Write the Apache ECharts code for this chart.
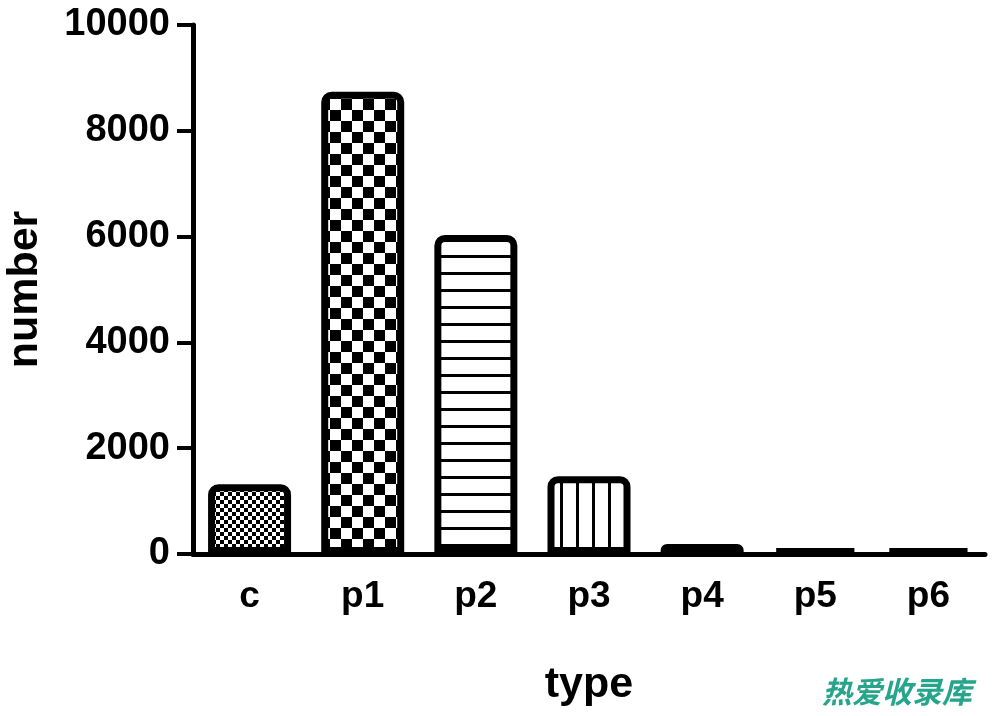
<!DOCTYPE html>
<html>
<head>
<meta charset="utf-8">
<script src="https://cdn.jsdelivr.net/npm/echarts@6/dist/echarts.min.js"></script>
<style>html,body{margin:0;padding:0;background:#fff;}#chart{width:1000px;height:716px;}</style>
</head>
<body>
<div id="chart"></div>
<script>
const categories = ['c', 'p1', 'p2', 'p3', 'p4', 'p5', 'p6'];
const values = [1320, 8740, 6030, 1470, 190, 90, 90];
const patternKinds = ['fineCheck', 'check', 'hlines', 'vlines', 'hlines', 'hlines', 'hlines'];
const yTicks = [0, 2000, 4000, 6000, 8000, 10000];

function makeCanvas(w, h) {
  const c = document.createElement('canvas');
  c.width = w; c.height = h;
  const ctx = c.getContext('2d');
  ctx.fillStyle = '#fff';
  ctx.fillRect(0, 0, w, h);
  ctx.fillStyle = '#000';
  return [c, ctx];
}
function checkPattern(cell) {
  const [c, ctx] = makeCanvas(cell * 2, cell * 2);
  ctx.fillRect(0, 0, cell, cell);
  ctx.fillRect(cell, cell, cell, cell);
  return c;
}
function hLinePattern(spacing, thick) {
  const [c, ctx] = makeCanvas(4, spacing);
  ctx.fillRect(0, 0, 4, thick);
  return c;
}
function vLinePattern(spacing, thick) {
  const [c, ctx] = makeCanvas(spacing, 4);
  ctx.fillRect(0, 0, thick, 4);
  return c;
}
const patternImgs = {
  fineCheck: checkPattern(4),
  check: checkPattern(11),
  hlines: hLinePattern(17, 3),
  vlines: vLinePattern(16, 3)
};

const font = '"Liberation Sans", Arial, Helvetica, sans-serif';
const chart = echarts.init(document.getElementById('chart'), null, {renderer: 'canvas'});
chart.setOption({
  animation: false,
  backgroundColor: '#fff',
  grid: {left: 193, right: 15, top: 25, bottom: 162, containLabel: false, outerBoundsMode: 'none'},
  xAxis: {
    type: 'category',
    data: categories,
    name: 'type',
    nameLocation: 'middle',
    nameGap: 110,
    nameTextStyle: {fontFamily: font, fontWeight: 'bold', fontSize: 43, color: '#000'},
    axisLine: {lineStyle: {color: '#000', width: 5}},
    axisTick: {alignWithLabel: true, length: 13, lineStyle: {color: '#000', width: 4}},
    axisLabel: {fontFamily: font, fontWeight: 'bold', fontSize: 37, color: '#000', margin: 24}
  },
  yAxis: {
    type: 'value',
    min: 0, max: 10000, interval: 2000,
    name: 'number',
    nameLocation: 'middle',
    nameGap: 146,
    nameRotate: 90,
    nameTextStyle: {fontFamily: font, fontWeight: 'bold', fontSize: 43, color: '#000'},
    axisLine: {show: true, lineStyle: {color: '#000', width: 5}},
    axisTick: {show: true, length: 16, lineStyle: {color: '#000', width: 4}},
    splitLine: {show: false},
    axisLabel: {fontFamily: font, fontWeight: 'bold', fontSize: 38, color: '#000', margin: 23,
      formatter: v => String(v)}
  },
  series: [{
    type: 'bar',
    barWidth: 83,
    data: values.map((v, i) => ({
      value: v,
      itemStyle: {
        color: {image: patternImgs[patternKinds[i]], repeat: 'repeat'},
        borderColor: '#000',
        borderWidth: 7,
        borderRadius: [7, 7, 0, 0]
      }
    }))
  }],
  graphic: [{
    type: 'text',
    left: 822,
    top: 677,
    style: {
      text: '热爱收录库',
      fill: '#26a58c',
      font: 'italic bold 30px "Noto Sans CJK SC"'
    }
  }]
});
</script>
</body>
</html>
